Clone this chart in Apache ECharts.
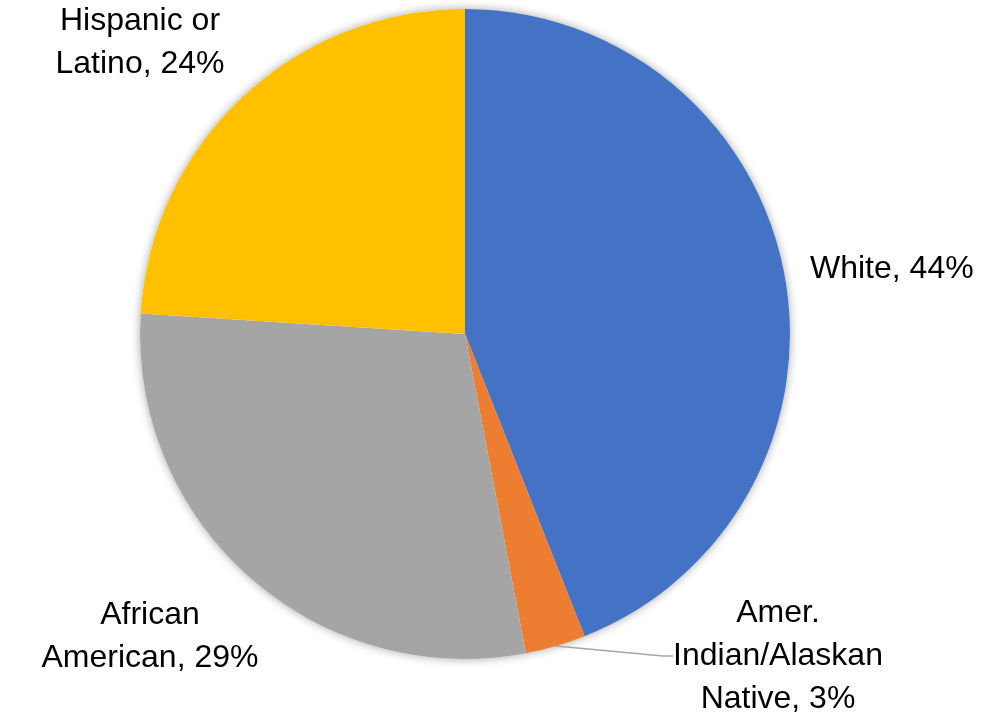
<!DOCTYPE html>
<html>
<head>
<meta charset="utf-8">
<script src="https://cdn.jsdelivr.net/npm/echarts@6/dist/echarts.min.js"></script>
<style>
  html, body { margin: 0; padding: 0; background: #fff; }
  #chart { width: 981px; height: 715px; }
</style>
</head>
<body>
<div id="chart"></div>
<script>
// Share of enrolment by race / ethnicity
const categories = ['White', 'Amer.\nIndian/Alaskan\nNative', 'African\nAmerican', 'Hispanic or\nLatino'];
const shares = [44, 3, 29, 24];
const colors = ['#4472C4', '#ED7D31', '#A5A5A5', '#FFC000'];

// Where each label block sits (centre point of the text box) and its alignment
const labelSpots = [
  { x: 810, y: 269, align: 'left' },
  { x: 778, y: 656, align: 'center' },
  { x: 150, y: 637, align: 'center' },
  { x: 140, y: 43, align: 'center' }
];

const chart = echarts.init(document.getElementById('chart'), null, { renderer: 'canvas' });

const sliceData = categories.map((name, i) => ({
  name: name,
  value: shares[i],
  itemStyle: { color: colors[i] },
  labelLine: { show: i === 1 }
}));

chart.setOption({
  backgroundColor: '#ffffff',
  animation: false,
  series: [
    {
      // soft halo beneath the whole pie
      type: 'pie',
      silent: true,
      z: 1,
      center: [465, 334],
      radius: 325,
      label: { show: false },
      labelLine: { show: false },
      data: [{ value: 1, itemStyle: { color: '#ffffff', shadowBlur: 10, shadowColor: 'rgba(0,0,0,0.35)' } }]
    },
    {
      type: 'pie',
      z: 2,
      center: [465, 334],
      radius: 325,
      startAngle: 90,
      clockwise: true,
      avoidLabelOverlap: false,
      itemStyle: { borderWidth: 0 },
      label: {
        show: true,
        position: 'outside',
        formatter: (p) => p.name + ', ' + p.value + '%',
        fontFamily: 'Liberation Sans',
        fontSize: 32,
        lineHeight: 43,
        color: '#000000'
      },
      labelLine: {
        show: false,
        length: 10,
        length2: 10,
        smooth: false,
        lineStyle: { color: '#A6A6A6', width: 1.5 }
      },
      labelLayout: function (params) {
        const s = labelSpots[params.dataIndex];
        return {
          x: s.x,
          y: s.y,
          align: s.align,
          verticalAlign: 'middle',
          hideOverlap: false
        };
      },
      data: sliceData
    }
  ]
});
</script>
</body>
</html>
